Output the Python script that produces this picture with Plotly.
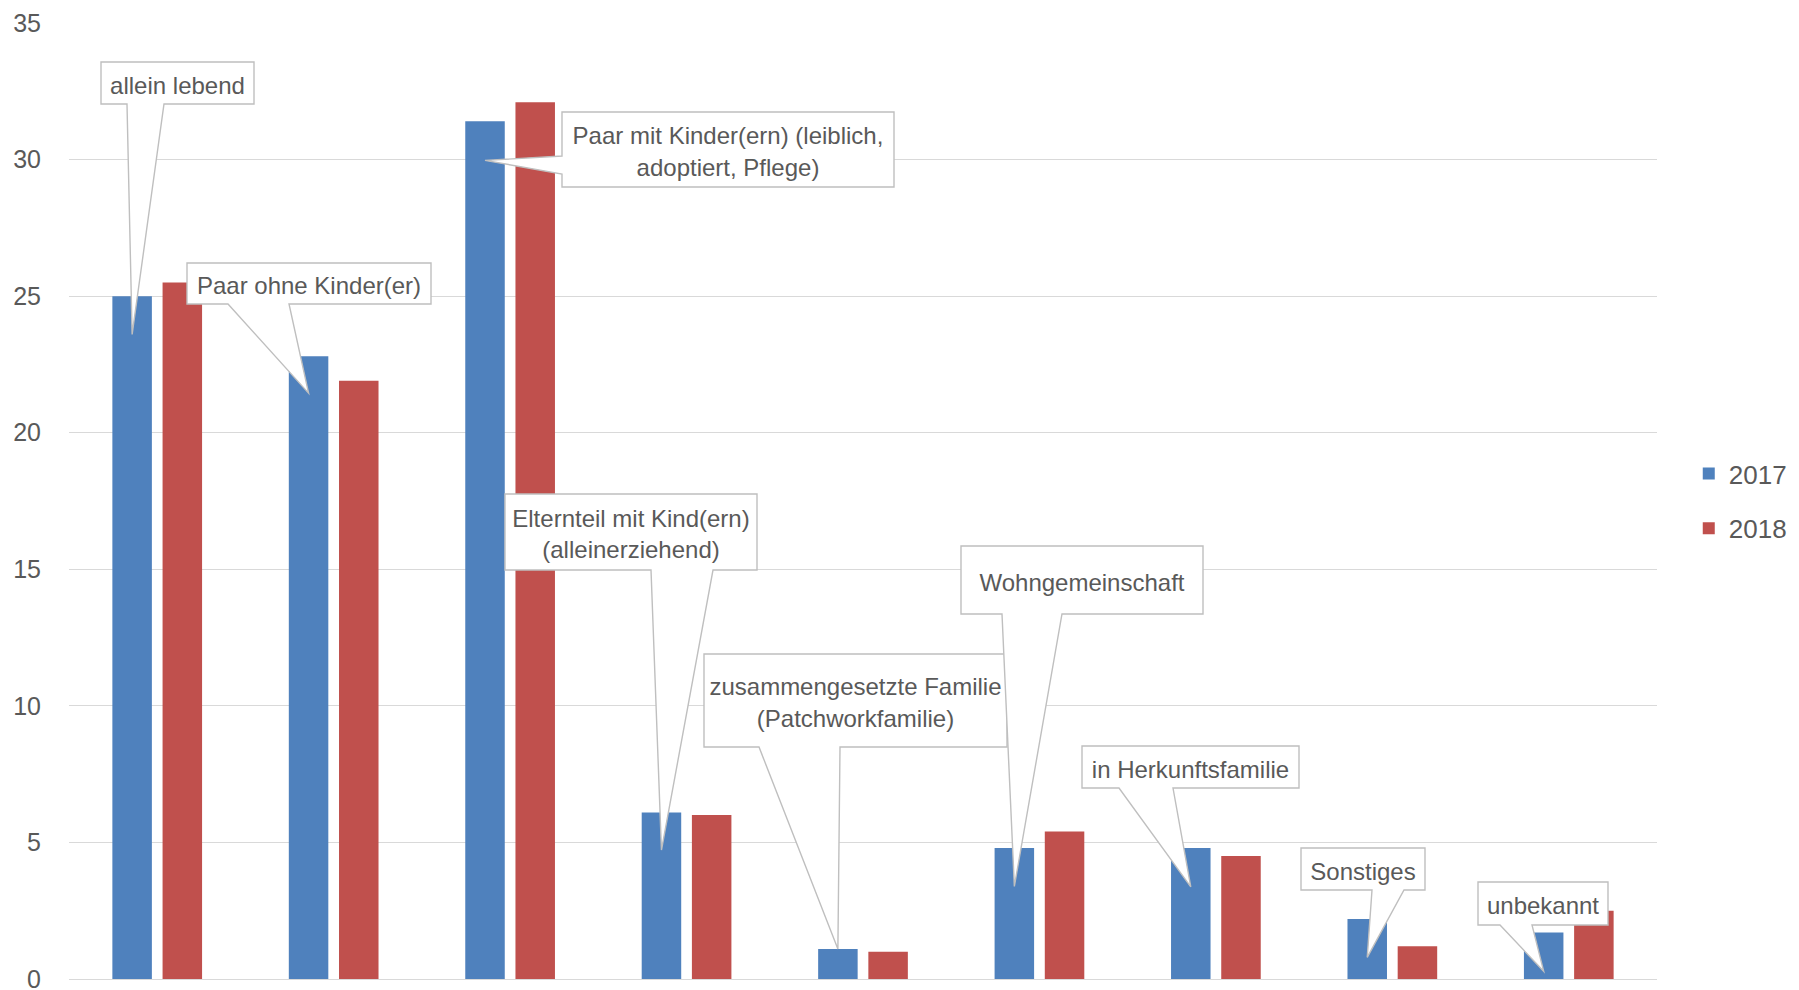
import plotly.graph_objects as go

# ---------------- data ----------------
categories = [
    "allein lebend",
    "Paar ohne Kinder(er)",
    "Paar mit Kinder(ern) (leiblich, adoptiert, Pflege)",
    "Elternteil mit Kind(ern) (alleinerziehend)",
    "zusammengesetzte Familie (Patchworkfamilie)",
    "Wohngemeinschaft",
    "in Herkunftsfamilie",
    "Sonstiges",
    "unbekannt",
]
values_2017 = [25.0, 22.8, 31.4, 6.1, 1.1, 4.8, 4.8, 2.2, 1.7]
values_2018 = [25.5, 21.9, 32.1, 6.0, 1.0, 5.4, 4.5, 1.2, 2.5]
series_names = ["2017", "2018"]
callout_text = [
    "allein lebend",
    "Paar ohne Kinder(er)",
    "Paar mit Kinder(ern) (leiblich,<br>adoptiert, Pflege)",
    "Elternteil mit Kind(ern)<br>(alleinerziehend)",
    "zusammengesetzte Familie<br>(Patchworkfamilie)",
    "Wohngemeinschaft",
    "in Herkunftsfamilie",
    "Sonstiges",
    "unbekannt",
]
y_ticks = [0, 5, 10, 15, 20, 25, 30, 35]

# ---------------- layout / style ----------------
PAGE_W, PAGE_H = 1799, 990
OFF = 8                      # default body margin of the html page
W, H = PAGE_W - 2 * OFF, PAGE_H - OFF
# plot area in page pixels
PL, PR, PT, PB = 69, 1657, 23, 979
ML, MT = PL - OFF, PT - OFF
MR, MB = W - (PR - OFF), H - (PB - OFF)
YMAX = 35
BARGAP = 0.431
BARGROUPGAP = 0.213
FONT = "Liberation Sans, Arial, sans-serif"
TXT = "#595959"
BLUE, RED = "#4F81BD", "#C0504D"
GRID = "#D9D9D9"
BORDER = "#BFBFBF"

n = len(categories)
cat_w = (PR - PL) / n


def x_px(xd):
    return PL + (xd + 0.5) * cat_w


def y_px(yd):
    return PB - yd / YMAX * (PB - PT)


def to_paper(px, py):
    return (px - PL) / (PR - PL), (PB - py) / (PB - PT)


# offset of first bar centre within its group (data units)
slot = (1 - BARGAP) / 2
blue_off = -slot / 2

# callout geometry in page pixels: box (L, T, R, B), wedge side, wedge base, drop below bar top
callouts = [
    dict(box=(101, 62, 254, 104), side="bottom", base=(127, 164), drop=1.4),
    dict(box=(187, 263, 431, 304), side="bottom", base=(228, 289), drop=1.35),
    dict(box=(562, 112, 894, 187), side="left", base=(156, 174), drop=1.43),
    dict(box=(505, 494, 757, 570), side="bottom", base=(651, 713), drop=1.38),
    dict(box=(704, 654, 1007, 747), side="bottom", base=(759, 840), drop=0.0),
    dict(box=(961, 546, 1203, 614), side="bottom", base=(1002, 1062), drop=1.41),
    dict(box=(1082, 746, 1299, 788), side="bottom", base=(1119, 1173), drop=1.43),
    dict(box=(1301, 848, 1425, 890), side="bottom", base=(1372, 1404), drop=1.41),
    dict(box=(1478, 882, 1608, 925), side="bottom", base=(1500, 1532), drop=1.42),
]

fig = go.Figure()
fig.add_trace(go.Bar(x=list(range(n)), y=values_2017, name=series_names[0],
                     marker=dict(color=BLUE, line=dict(width=0)), legendgroup="a",
                     hovertext=categories))
fig.add_trace(go.Bar(x=list(range(n)), y=values_2018, name=series_names[1],
                     marker=dict(color=RED, line=dict(width=0)), legendgroup="b",
                     hovertext=categories))

shapes = []
for i, c in enumerate(callouts):
    L, T, R, B = c["box"]
    tip_x = x_px(i + blue_off)
    tip_y = y_px(values_2017[i] - c["drop"])
    if c["side"] == "bottom":
        b1, b2 = c["base"]
        pts = [(L, T), (R, T), (R, B), (b2, B), (tip_x, tip_y), (b1, B), (L, B)]
    else:
        y1, y2 = c["base"]
        pts = [(L, T), (R, T), (R, B), (L, B), (L, y2), (tip_x, tip_y), (L, y1)]
    pp = [to_paper(px, py) for px, py in pts]
    path = "M " + " L ".join(f"{a:.5f},{b:.5f}" for a, b in pp) + " Z"
    shapes.append(dict(type="path", xref="paper", yref="paper", path=path,
                       fillcolor="white", line=dict(color=BORDER, width=1.4),
                       layer="above"))
    x0, y0 = to_paper(L, B)
    x1, y1 = to_paper(R, T)
    shapes.append(dict(type="rect", xref="paper", yref="paper",
                       x0=x0, y0=y0, x1=x1, y1=y1,
                       fillcolor="rgba(0,0,0,0)", line=dict(width=0),
                       layer="above",
                       label=dict(text=callout_text[i], textposition="middle center",
                                  padding=0,
                                  font=dict(family=FONT, size=24, color=TXT))))

fig.update_layout(
    width=W, height=H,
    margin=dict(l=ML, r=MR, t=MT, b=MB, pad=0, autoexpand=False),
    paper_bgcolor="white", plot_bgcolor="white",
    barmode="group", bargap=BARGAP, bargroupgap=BARGROUPGAP,
    font=dict(family=FONT, color=TXT),
    xaxis=dict(range=[-0.5, n - 0.5], showticklabels=False, showgrid=False,
               zeroline=False, showline=False, ticks="", automargin=False),
    yaxis=dict(range=[0, YMAX], tickvals=y_ticks, showgrid=True, gridcolor=GRID,
               gridwidth=1.3, zeroline=True, zerolinecolor=GRID, zerolinewidth=1.3,
               showline=False, ticks="", ticklabelstandoff=27,
               ticklabeloverflow="allow", automargin=False,
               tickfont=dict(family=FONT, size=25, color=TXT)),
    legend=dict(x=1.020, xanchor="left", y=0.5, yanchor="middle",
                font=dict(family=FONT, size=26, color=TXT),
                tracegroupgap=18, itemwidth=30, bgcolor="rgba(0,0,0,0)"),
    shapes=shapes,
    showlegend=True,
)

fig.write_html("out.html")
